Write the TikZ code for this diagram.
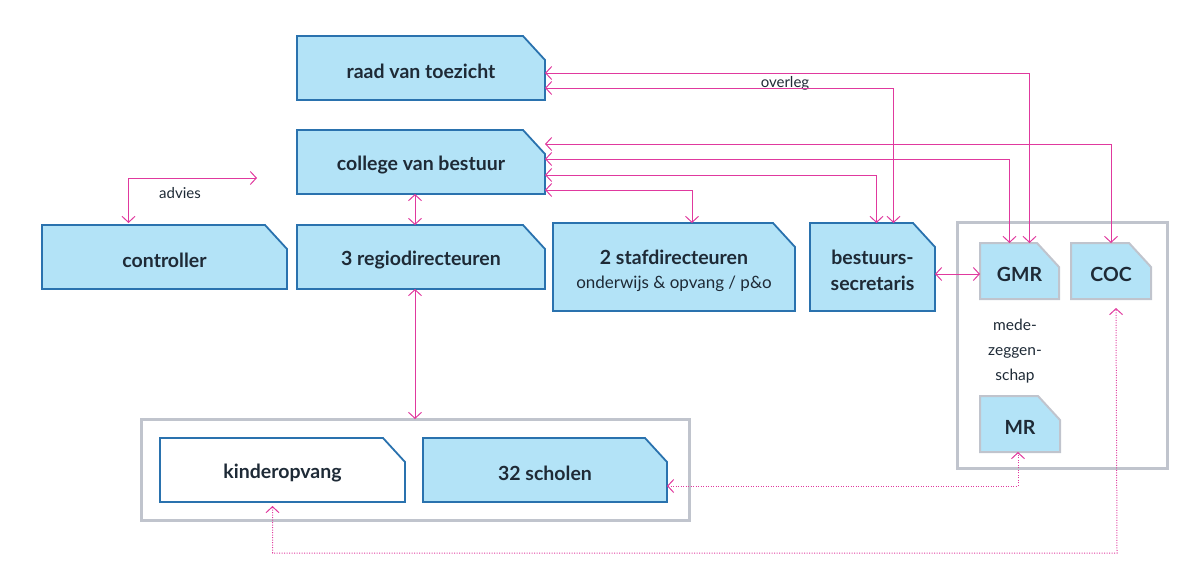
\documentclass[tikz,border=0pt]{standalone}
\usepackage{fontspec}
\setmainfont{Lato}
\usetikzlibrary{arrows.meta}
\pgfdeclarelayer{bg}
\pgfsetlayers{bg,main}
\definecolor{boxfill}{HTML}{B3E3F7}
\definecolor{boxline}{HTML}{2A72AE}
\definecolor{greyline}{HTML}{C0C4CD}
\definecolor{mag}{HTML}{E0399E}
\definecolor{txt}{HTML}{1E2A36}
% #1 outline style, #2 name, #3..#6 x1 y1 x2 y2, #7 text
\newcommand\chbox[7]{%
  \node[shapebox, minimum width={#5-#3}, minimum height={#6-#4}] (#2) at ({(#3+#5)/2},{(#4+#6)/2}) {};
  \node[lbl] (#2-t) at ([yshift=-3.5pt]#2.center) {#7};
  \begin{pgfonlayer}{bg}
  \draw[#1] (#2.south west) -- (#2.north west) -- ([xshift=-22pt]#2.north east) -- ([yshift=-24pt]#2.north east) -- (#2.south east) -- cycle;
  \end{pgfonlayer}}
\begin{document}
\begin{tikzpicture}[x=1pt,y=-1pt,
  shapebox/.style={inner sep=0pt, outer sep=0pt},
  lbl/.style={inner sep=0pt, outer sep=0pt, align=center, text=txt, font=\fontsize{19.5}{26}\selectfont\bfseries},
  blueb/.style={fill=boxfill, draw=boxline, line width=1.8pt, line join=miter},
  whiteb/.style={fill=white, draw=boxline, line width=1.8pt, line join=miter},
  greyb/.style={fill=boxfill, draw=greyline, line width=2pt, line join=miter},
  container/.style={draw=greyline, line width=3pt, inner sep=0pt, outer sep=0pt},
  small/.style={text=txt, font=\fontsize{15}{17}\selectfont, inner sep=0pt},
  arr/.style={mag, line width=1pt, {Straight Barb[length=6pt,width=13pt]}-{Straight Barb[length=6pt,width=13pt]}},
  darr/.style={mag, line width=1pt, dash pattern=on 1pt off 1.5pt, {Straight Barb[length=6pt,width=13pt]}-{Straight Barb[length=6pt,width=13pt]}}
]
\useasboundingbox (0,0) rectangle (1200,582);

% containers
\node[container, minimum width=548, minimum height=101] (grp) at (415,469.5) {};
\node[container, minimum width=210, minimum height=246] (mz) at (1062,345) {};

% boxes
\chbox{blueb}{rvt}{297}{36}{545}{100}{raad van toezicht}
\chbox{blueb}{cvb}{297}{130}{545}{194}{college van bestuur}
\chbox{blueb}{ctrl}{42}{225}{287}{289}{controller}
\chbox{blueb}{reg}{297}{225}{545}{289}{3 regiodirecteuren}
\chbox{blueb}{sd}{553}{223}{795}{311}{2 stafdirecteuren\\[-2pt]{\fontsize{17}{18}\selectfont\mdseries onderwijs \& opvang / p\&o}}
\chbox{blueb}{bs}{810}{223}{935}{311}{bestuurs-\\secretaris}
\chbox{greyb}{gmr}{980}{243}{1059}{299}{GMR}
\chbox{greyb}{coc}{1071}{243}{1151}{299}{COC}
\chbox{greyb}{mr}{980}{396}{1060}{452}{MR}
\chbox{whiteb}{kin}{160}{438}{405}{502}{kinderopvang}
\chbox{blueb}{sch}{423}{438}{667}{502}{32 scholen}

\node[text=txt, font=\fontsize{15.5}{25}\selectfont, align=center, inner sep=0pt] (mzt) at (1015,351) {mede-\\zeggen-\\schap};

% labels
\node[small] (ovl) at (785,83) {overleg};
\node[small] (adv) at (180,193) {advies};

% connectors
\draw[arr] (rvt.east |- 0,73) -| ([xshift=10pt]gmr.north);
\draw[arr] (rvt.east |- 0,88) -| ([xshift=21pt]bs.north);
\draw[arr] (cvb.east |- 0,144) -| (coc.north);
\draw[arr] (cvb.east |- 0,159) -| ([xshift=-10pt]gmr.north);
\draw[arr] (cvb.east |- 0,175) -| ([xshift=4pt]bs.north);
\draw[arr] (cvb.east |- 0,190) -| ([xshift=18pt]sd.north);
\draw[arr] ([xshift=-6pt]cvb.south) -- ([xshift=-6pt]reg.north);
\draw[arr] ([xshift=-6pt]reg.south) -- (grp.north);
\coordinate (advend) at (257,178);
\draw[arr] (advend) -| ([xshift=-36pt,yshift=2pt]ctrl.north);
\draw[arr] (bs.east |- 0,274) -- (gmr.west |- 0,274);
\draw[darr] (sch.east |- 0,486) -| ([xshift=-2pt]mr.south);
\coordinate (botline) at (1117,553);
\draw[darr] ([xshift=-10pt,yshift=-4pt]kin.south) |- (botline) -- ([xshift=5pt,yshift=-9pt]coc.south);
\end{tikzpicture}
\end{document}
